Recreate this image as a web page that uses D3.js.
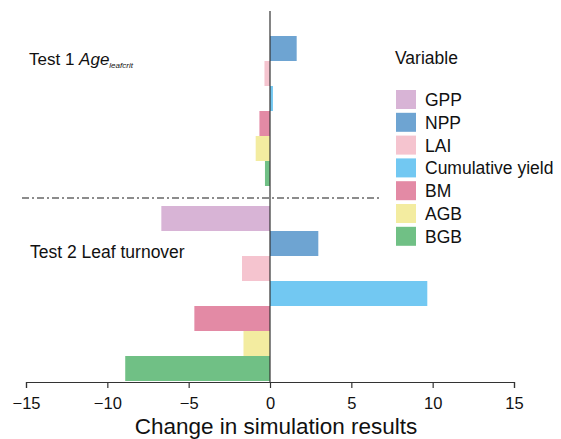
<!DOCTYPE html>
<html>

<head>
  <meta charset="utf-8">
  <script src="https://cdn.jsdelivr.net/npm/d3@7"></script>
  <style>
    body {
      margin: 0;
      background: #ffffff;
    }

    svg text {
      font-family: "Liberation Sans", Arial, sans-serif;
      fill: #111111;
    }
  </style>
</head>

<body>
  <div id="chart"></div>

  <script>
    // data
    var variables = ['GPP', 'NPP', 'LAI', 'Cumulative yield', 'BM', 'AGB', 'BGB'];
    var colors = ['#d8b4d6', '#6ea4d2', '#f5c4cf', '#72c8f2', '#e38aa5', '#f3eca0', '#70c085'];
    var tests = ['test1', 'test2'];
    var test1Values = [0, 1.64, -0.34, 0.18, -0.65, -0.88, -0.31];
    var test2Values = [-6.68, 2.97, -1.72, 9.67, -4.65, -1.63, -8.9];
    var xTicks = [-15, -10, -5, 0, 5, 10, 15];

    var width = 561, height = 439;

    var svg = d3.select('#chart')
      .append('svg')
      .attr('width', width)
      .attr('height', height);

    // build the rows
    var rows = [];
    for (let i = 0; i < variables.length; i++) {
      rows.push({ test: 'test1', variable: variables[i], value: test1Values[i], color: colors[i] });
    }
    for (let i = 0; i < variables.length; i++) {
      rows.push({ test: 'test2', variable: variables[i], value: test2Values[i], color: colors[i] });
    }

    var x = d3.scaleLinear()
      .domain([-15, 15])
      .range([26, 514]);

    var yTest = d3.scaleBand()
      .domain(tests)
      .range([11, 381])
      .paddingInner(20 / 195);

    var yVar = d3.scaleBand()
      .domain(variables)
      .range([0, yTest.bandwidth()]);

    // bars
    svg.append('g')
      .selectAll('rect')
      .data(rows)
      .enter()
      .append('rect')
      .attr('x', d => x(Math.min(0, d.value)))
      .attr('y', d => yTest(d.test) + yVar(d.variable))
      .attr('width', d => Math.abs(x(d.value) - x(0)))
      .attr('height', yVar.bandwidth())
      .style('fill', d => d.color);

    // zero line
    svg.append('line')
      .attr('x1', x(0)).attr('x2', x(0))
      .attr('y1', 11).attr('y2', 382)
      .style('stroke', '#333333')
      .style('stroke-width', 1.2);

    // separator between the two tests
    var sepY = yTest('test2') - yTest.step() * yTest.paddingInner() / 2 + 2;
    svg.append('line')
      .attr('x1', 22).attr('x2', 380)
      .attr('y1', sepY).attr('y2', sepY)
      .style('stroke', '#1a1a1a')
      .style('stroke-width', 1.2)
      .style('stroke-dasharray', '7,3,2,3');

    // x axis
    var axis = svg.append('g')
      .attr('transform', 'translate(0,382)')
      .call(d3.axisBottom(x)
        .tickValues(xTicks)
        .tickSize(6)
        .tickSizeOuter(6)
        .tickPadding(9));

    axis.select('.domain')
      .style('stroke', '#333333')
      .style('stroke-width', 1.2);
    axis.selectAll('.tick line')
      .style('stroke', '#333333')
      .style('stroke-width', 1.2);
    axis.selectAll('.tick text')
      .style('font-size', '16.5px')
      .style('font-family', '"Liberation Sans", Arial, sans-serif')
      .style('fill', '#111111');

    svg.append('text')
      .attr('x', 276)
      .attr('y', 434)
      .attr('text-anchor', 'middle')
      .style('font-size', '22.5px')
      .text('Change in simulation results');

    // test labels
    var t1 = svg.append('text')
      .attr('x', 29)
      .attr('y', 65)
      .style('font-size', '17px');
    t1.append('tspan').text('Test 1 ');
    t1.append('tspan').style('font-style', 'italic').text('Age');
    t1.append('tspan')
      .style('font-style', 'italic')
      .style('font-size', '8px')
      .attr('dy', 3)
      .text('leafcrit');

    svg.append('text')
      .attr('x', 30)
      .attr('y', 258)
      .style('font-size', '17.5px')
      .text('Test 2 Leaf turnover');

    // legend
    var legend = svg.append('g')
      .attr('transform', 'translate(396,0)');

    legend.append('text')
      .attr('x', -1)
      .attr('y', 64)
      .style('font-size', '17.5px')
      .text('Variable');

    var item = legend.selectAll('.item')
      .data(variables)
      .enter()
      .append('g')
      .attr('class', 'item')
      .attr('transform', (d, i) => 'translate(0,' + (90 + i * 22.8) + ')');

    item.append('rect')
      .attr('width', 20)
      .attr('height', 19)
      .style('fill', (d, i) => colors[i]);

    item.append('text')
      .attr('x', 29)
      .attr('y', 16)
      .style('font-size', '17.5px')
      .text(d => d);
  </script>

</body>

</html>
